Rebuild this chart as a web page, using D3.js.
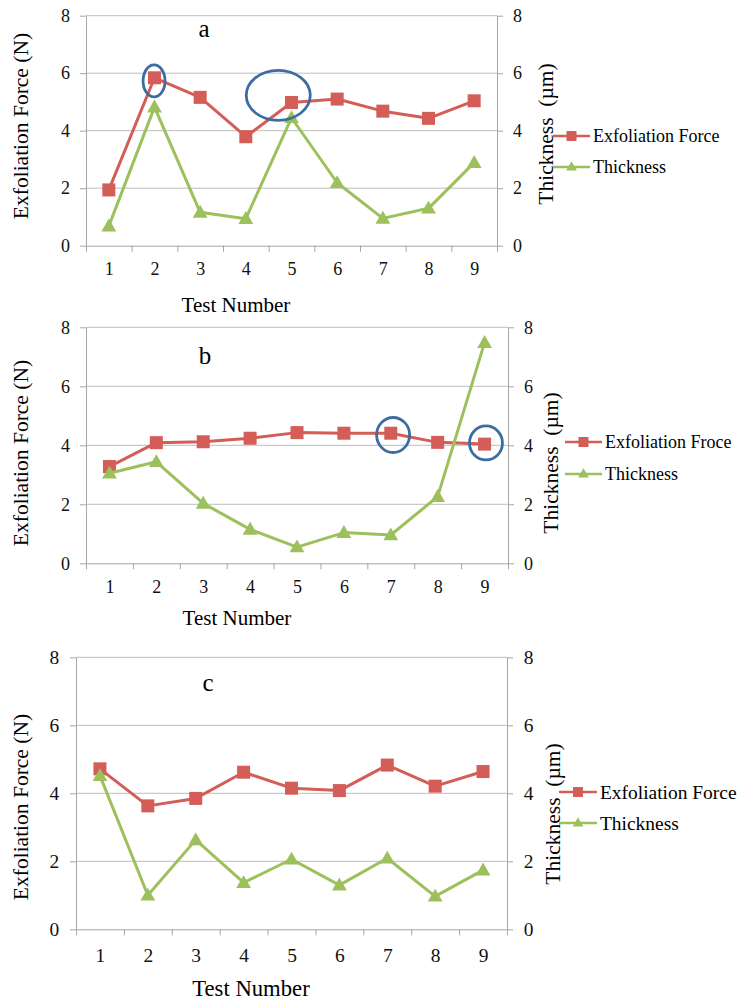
<!DOCTYPE html>
<html>
<head>
<meta charset="utf-8">
<script src="https://cdnjs.cloudflare.com/ajax/libs/d3/7.8.5/d3.min.js"></script>
<style>
body { margin: 0; background: #fff; }
</style>
</head>
<body>
<svg id="chart"></svg>
<script>
// data
var testNumbers = [1, 2, 3, 4, 5, 6, 7, 8, 9];
var yTicks = [0, 2, 4, 6, 8];

var forceA = [1.94, 5.84, 5.16, 3.79, 4.98, 5.10, 4.68, 4.43, 5.04];
var thickA = [0.68, 4.82, 1.16, 0.94, 4.45, 2.19, 0.95, 1.30, 2.89];

var forceB = [3.28, 4.09, 4.12, 4.24, 4.43, 4.41, 4.41, 4.10, 4.04];
var thickB = [3.05, 3.44, 2.03, 1.15, 0.55, 1.04, 0.96, 2.26, 7.48];

var forceC = [4.72, 3.63, 3.85, 4.62, 4.15, 4.08, 4.83, 4.21, 4.64];
var thickC = [4.52, 1.00, 2.63, 1.37, 2.06, 1.30, 2.09, 0.97, 1.74];

var legendA = ["Exfoliation Force", "Thickness"];
var legendB = ["Exfoliation Froce", "Thickness"];
var legendC = ["Exfoliation Force", "Thickness"];

// blue rings drawn on the figure (test position, force value)
var ringsA = [{test: 1.99, value: 5.73, rx: 11, ry: 16}, {test: 4.71, value: 5.23, rx: 32, ry: 25}];
var ringsB = [{test: 7.05, value: 4.35, rx: 16.5, ry: 17.5}, {test: 9.03, value: 4.08, rx: 16.5, ry: 17}];
var ringsC = [];

var W = 739, H = 1001;
var red = "#d45d57", green = "#9cc05c", blue = "#3d6d9f";
var axisGray = "#a6a6a6", gridGray = "#bdbdbd";
var serif = "'Liberation Serif', 'Times New Roman', Times, serif";

var svg = d3.select("#chart").attr("width", W).attr("height", H)
  .attr("font-family", serif);

var triangle = d3.symbol().type(d3.symbolTriangle).size(95);
var smallTriangle = d3.symbol().type(d3.symbolTriangle).size(50);

function drawPanel(p) {
  var g = svg.append("g");
  var s = p.fs;

  var x = d3.scaleLinear()
    .domain([0.5, testNumbers.length + 0.5])
    .range([p.left, p.right]);
  var y = d3.scaleLinear().domain([0, 8]).range([p.bottom, p.top]);
  var y2 = d3.scaleLinear().domain([0, 8]).range([p.bottom, p.top]);

  // gridlines
  g.append("g").selectAll("line")
    .data(yTicks.filter(function(d){ return d > 0; }))
    .enter().append("line")
    .attr("x1", p.left).attr("x2", p.right)
    .attr("y1", function(d){ return y(d); }).attr("y2", function(d){ return y(d); })
    .attr("stroke", gridGray).attr("stroke-width", 1);

  // left axis
  var ax = g.append("g")
    .attr("transform", "translate(" + p.left + ",0)")
    .call(d3.axisLeft(y).tickValues(yTicks).tickSize(6).tickPadding(10 * s).tickSizeOuter(0));
  ax.attr("font-family", serif);
  ax.select(".domain").attr("stroke", axisGray);
  ax.selectAll(".tick line").attr("stroke", axisGray);
  ax.selectAll("text").attr("font-size", 18 * s).attr("fill", "#111");

  // right axis
  var ar = g.append("g")
    .attr("transform", "translate(" + p.right + ",0)")
    .call(d3.axisRight(y2).tickValues(yTicks).tickSize(6).tickPadding(10 * s).tickSizeOuter(0));
  ar.attr("font-family", serif);
  ar.select(".domain").attr("stroke", axisGray);
  ar.selectAll(".tick line").attr("stroke", axisGray);
  ar.selectAll("text").attr("font-size", 18 * s).attr("fill", "#111");

  // bottom axis, ticks between categories
  var bounds = [0.5].concat(testNumbers.map(function(d){ return d + 0.5; }));
  var ab = g.append("g")
    .attr("transform", "translate(0," + p.bottom + ")")
    .call(d3.axisBottom(x).tickValues(bounds).tickSize(6).tickFormat("").tickSizeOuter(0));
  ab.select(".domain").attr("stroke", axisGray);
  ab.selectAll(".tick line").attr("stroke", axisGray);

  var al = g.append("g")
    .attr("transform", "translate(0," + p.bottom + ")")
    .call(d3.axisBottom(x).tickValues(testNumbers).tickSize(0).tickFormat(d3.format("d")));
  al.attr("font-family", serif);
  al.select(".domain").remove();
  al.selectAll("text")
    .attr("y", p.xLabelDy).attr("dy", "0.35em")
    .attr("font-size", 18 * s).attr("fill", "#111");

  // titles
  g.append("text")
    .attr("x", p.titleX).attr("y", p.titleY).attr("dy", "0.35em")
    .attr("text-anchor", "middle").attr("font-size", 21 * s)
    .text("Test Number");

  g.append("text")
    .attr("transform", "translate(" + p.yTitleX + "," + p.yTitleY + ")rotate(-90)")
    .attr("dy", "0.35em").attr("text-anchor", "middle")
    .attr("font-size", 21.5)
    .text("Exfoliation Force (N)");

  g.append("text")
    .attr("transform", "translate(" + p.rTitleX + "," + p.rTitleY + ")rotate(-90)")
    .attr("dy", "0.35em").attr("text-anchor", "middle")
    .attr("font-size", 21.5)
    .text("Thickness\u00a0 (\u00b5m)");

  g.append("text")
    .attr("x", p.labelX).attr("y", p.labelY).attr("dy", "0.35em")
    .attr("text-anchor", "middle").attr("font-size", 25)
    .text(p.label);

  // lines
  var line1 = d3.line()
    .x(function(d, i){ return x(testNumbers[i]); })
    .y(function(d){ return y(d); });
  var line2 = d3.line()
    .x(function(d, i){ return x(testNumbers[i]); })
    .y(function(d){ return y2(d); });

  g.append("path").datum(p.force)
    .attr("d", line1).attr("fill", "none")
    .attr("stroke", red).attr("stroke-width", 3).attr("stroke-linejoin", "round");
  g.append("g").selectAll("rect")
    .data(p.force).enter().append("rect")
    .attr("x", function(d, i){ return x(testNumbers[i]) - 6.5; })
    .attr("y", function(d){ return y(d) - 6.5; })
    .attr("width", 13).attr("height", 13)
    .attr("fill", red);

  g.append("path").datum(p.thick)
    .attr("d", line2).attr("fill", "none")
    .attr("stroke", green).attr("stroke-width", 3).attr("stroke-linejoin", "round");
  g.append("g").selectAll("path")
    .data(p.thick).enter().append("path")
    .attr("d", triangle)
    .attr("transform", function(d, i){ return "translate(" + x(testNumbers[i]) + "," + (y2(d) + 1) + ")"; })
    .attr("fill", green);

  // rings
  g.append("g").selectAll("ellipse")
    .data(p.rings).enter().append("ellipse")
    .attr("cx", function(d){ return x(d.test); })
    .attr("cy", function(d){ return y(d.value); })
    .attr("rx", function(d){ return d.rx; })
    .attr("ry", function(d){ return d.ry; })
    .attr("fill", "none").attr("stroke", blue).attr("stroke-width", 2.8);

  // legend
  var leg = g.append("g");
  p.legend.forEach(function(name, i) {
    var ly = p.legY + i * p.legDy;
    var c = i === 0 ? red : green;
    leg.append("line")
      .attr("x1", p.legX0).attr("x2", p.legX1)
      .attr("y1", ly).attr("y2", ly)
      .attr("stroke", c).attr("stroke-width", 2.5);
    var mx = (p.legX0 + p.legX1) / 2;
    if (i === 0) {
      leg.append("rect").attr("x", mx - 5).attr("y", ly - 5)
        .attr("width", 10).attr("height", 10).attr("fill", red);
    } else {
      leg.append("path").attr("d", smallTriangle)
        .attr("transform", "translate(" + mx + "," + (ly + 0.5) + ")").attr("fill", green);
    }
    leg.append("text")
      .attr("x", p.legX1 + 3).attr("y", ly).attr("dy", "0.35em")
      .attr("font-size", 18 * s)
      .text(name);
  });
}

drawPanel({
  label: "a", force: forceA, thick: thickA, legend: legendA, rings: ringsA, fs: 1,
  left: 86, right: 497, top: 15.7, bottom: 245.7, xLabelDy: 23,
  titleX: 236, titleY: 305, labelX: 204, labelY: 28,
  yTitleX: 20, yTitleY: 126, rTitleX: 545, rTitleY: 134,
  legX0: 553, legX1: 590, legY: 136, legDy: 31
});

drawPanel({
  label: "b", force: forceB, thick: thickB, legend: legendB, rings: ringsB, fs: 1,
  left: 86, right: 508, top: 327.3, bottom: 563.3, xLabelDy: 23,
  titleX: 237, titleY: 618, labelX: 205, labelY: 355,
  yTitleX: 20, yTitleY: 453, rTitleX: 550, rTitleY: 463,
  legX0: 565, legX1: 602, legY: 442, legDy: 32
});

drawPanel({
  label: "c", force: forceC, thick: thickC, legend: legendC, rings: ringsC, fs: 1.08,
  left: 76, right: 507, top: 657.3, bottom: 929.3, xLabelDy: 26,
  titleX: 251, titleY: 988, labelX: 208, labelY: 682,
  yTitleX: 20, yTitleY: 807, rTitleX: 552, rTitleY: 814,
  legX0: 559, legX1: 597, legY: 792, legDy: 31
});
</script>
</body>
</html>
